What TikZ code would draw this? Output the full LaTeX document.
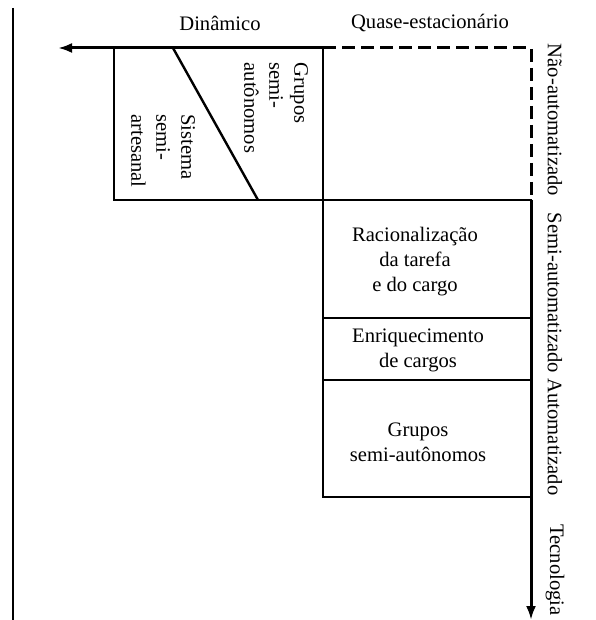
\documentclass[tikz,border=0pt]{standalone}
\usepackage{fontspec}
\setmainfont{Liberation Serif}
\usetikzlibrary{arrows.meta}

\begin{document}
\begin{tikzpicture}[x=0.5pt,y=-0.5pt,font=\fontsize{10.3}{12.5}\selectfont,
  axis/.style={line width=1.5pt},
  tip/.style={-{Latex[length=7pt,width=5pt]}},
  box/.style={line width=1.2pt},
  vlbl/.style={rotate=-90,align=left,inner sep=0pt}]
\useasboundingbox (0,0) rectangle (595,620);
\draw[line width=0.9pt] (13,8)--(13,620);
% axes
\draw[axis,tip] (323,48)--(58,48);
\draw[axis,dash pattern=on 6.5pt off 3pt] (323,48)--(531,48)--(531,200);
\draw[axis,tip] (531,200)--(531,620);
\node (din) at (220,23) {Dinâmico};
\node (qes) at (430,23) {Quase-estacionário};
\node[vlbl] (naut) at (555,120) {Não-automatizado};
\node[vlbl] (saut) at (555,293) {Semi-automatizado};
\node[vlbl] (aut) at (555,437) {Automatizado};
\node[vlbl] (tec) at (555,570) {Tecnologia};
% dynamic box
\draw[box] (114,48) rectangle (323,200);
\draw[box] (173,48)--(258,200);
\node[vlbl] (gsa) at (276,108) {Grupos\\semi-\\autônomos};
\node[vlbl] (ssa) at (163,151) {Sistema\\semi-\\artesanal};
% quasi-stationary boxes
\draw[box] (323,200) rectangle (531,318);
\draw[box] (323,318) rectangle (531,380);
\draw[box] (323,380) rectangle (531,497);
\node[align=center] (rac) at (415,262) {Racionalização\\da tarefa\\e do cargo};
\node[align=center] (enr) at (418,350) {Enriquecimento\\de cargos};
\node[align=center] (grp) at (418,442) {Grupos\\semi-autônomos};
\end{tikzpicture}
\end{document}
